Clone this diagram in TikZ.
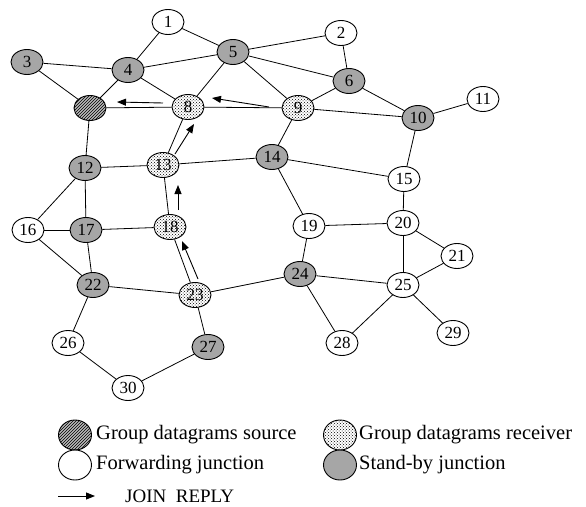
\documentclass[tikz,border=0pt]{standalone}
\usepackage{fontspec}
\setmainfont{Liberation Serif}
\usetikzlibrary{patterns,arrows.meta,shapes.geometric}
\begin{document}
\begin{tikzpicture}[x=1pt,y=-1pt,
  nd/.style={ellipse,draw,line width=0.9pt,minimum width=32pt,minimum height=25pt,inner sep=0pt,font=\fontsize{17}{17}\selectfont},
  fwd/.style={nd,fill=white},
  stby/.style={nd,fill=gray!70},
  src/.style={nd,fill=gray!55,postaction={pattern=north east lines}},
  rcv/.style={nd,fill=white,postaction={pattern=crosshatch dots}},
  lgsym/.style={minimum width=33pt,minimum height=30pt},
  edge/.style={line width=0.8pt},
  jr/.style={line width=0.9pt,-{Triangle[length=9pt,width=7pt]}},
  lg/.style={anchor=west,font=\fontsize{20.5}{20.5}\selectfont,inner sep=0pt}]
\useasboundingbox (0,0) rectangle (586,506);
% edges first (drawn under nodes via coordinates)
\node[fwd]  (n1)  at (168,22) {1};
\node[fwd]  (n2)  at (341,33) {2};
\node[stby] (n3)  at (27,62) {3};
\node[stby] (n4)  at (128,70) {4};
\node[stby] (n5)  at (233,52) {5};
\node[stby] (n6)  at (349,81) {6};
\node[src]  (n7)  at (90,108) {};
\node[rcv]  (n8)  at (188,107) {8};
\node[rcv]  (n9)  at (298,108) {9};
\node[stby] (n10) at (418,118) {10};
\node[fwd]  (n11) at (483,99) {11};
\node[stby] (n12) at (85,168) {12};
\node[rcv]  (n13) at (163,165) {13};
\node[stby] (n14) at (272,157) {14};
\node[fwd]  (n15) at (404,179) {15};
\node[fwd]  (n16) at (28,230) {16};
\node[stby] (n17) at (86,230) {17};
\node[rcv]  (n18) at (170,227) {18};
\node[fwd]  (n19) at (309,226) {19};
\node[fwd]  (n20) at (403,223) {20};
\node[fwd]  (n21) at (457,256) {21};
\node[stby] (n22) at (93,285) {22};
\node[rcv]  (n23) at (195,295) {23};
\node[stby] (n24) at (300,274) {24};
\node[fwd]  (n25) at (403,285) {25};
\node[fwd]  (n26) at (68,343) {26};
\node[stby] (n27) at (208,347) {27};
\node[fwd]  (n28) at (342,343) {28};
\node[fwd]  (n29) at (453,333) {29};
\node[fwd]  (n30) at (128,388) {30};
% edges
\foreach \a/\b in {1/4,1/5,3/4,3/7,4/5,4/7,4/8,5/2,5/6,5/8,5/9,2/6,6/9,6/10,10/11,7/8,8/9,9/10,9/14,10/15,7/12,12/13,8/13,13/14,14/15,14/19,12/16,12/17,16/17,16/22,17/18,17/22,13/18,18/23,22/23,22/26,23/24,23/27,19/20,19/24,15/20,20/21,20/25,21/25,24/25,24/28,25/28,25/29,26/30,27/30}
  \draw[edge] (n\a) -- (n\b);
% join reply arrows
\coordinate (a1s) at (163,103); \coordinate (a1e) at (117,102);
\coordinate (a2s) at (269,107); \coordinate (a2e) at (212,98);
\coordinate (a3s) at (175,154); \coordinate (a3e) at (194,124);
\coordinate (a4s) at (178,210); \coordinate (a4e) at (178,185);
\coordinate (a5s) at (198,279); \coordinate (a5e) at (182,241);
\foreach \i in {1,...,5} \draw[jr] (a\i s) -- (a\i e);
% legend
\node[src,lgsym] (lsrc) at (75,435) {};
\node[lg] (tsrc) at (96,435) {Group datagrams source};
\node[rcv,lgsym] (lrcv) at (340,435) {};
\node[lg] (trcv) at (359,435) {Group datagrams receiver};
\node[fwd,lgsym] (lfwd) at (75,465) {};
\node[lg] (tfwd) at (96,465) {Forwarding junction};
\node[stby,lgsym] (lstb) at (340,465) {};
\node[lg] (tstb) at (359,465) {Stand-by junction};
\coordinate (la) at (58,496);
\coordinate (lb) at (95,496);
\node[lg,font=\fontsize{19}{19}\selectfont] (tjr) at (125,496) {JOIN\ \ REPLY};
\draw[jr] (la) -- (lb);
\end{tikzpicture}
\end{document}
